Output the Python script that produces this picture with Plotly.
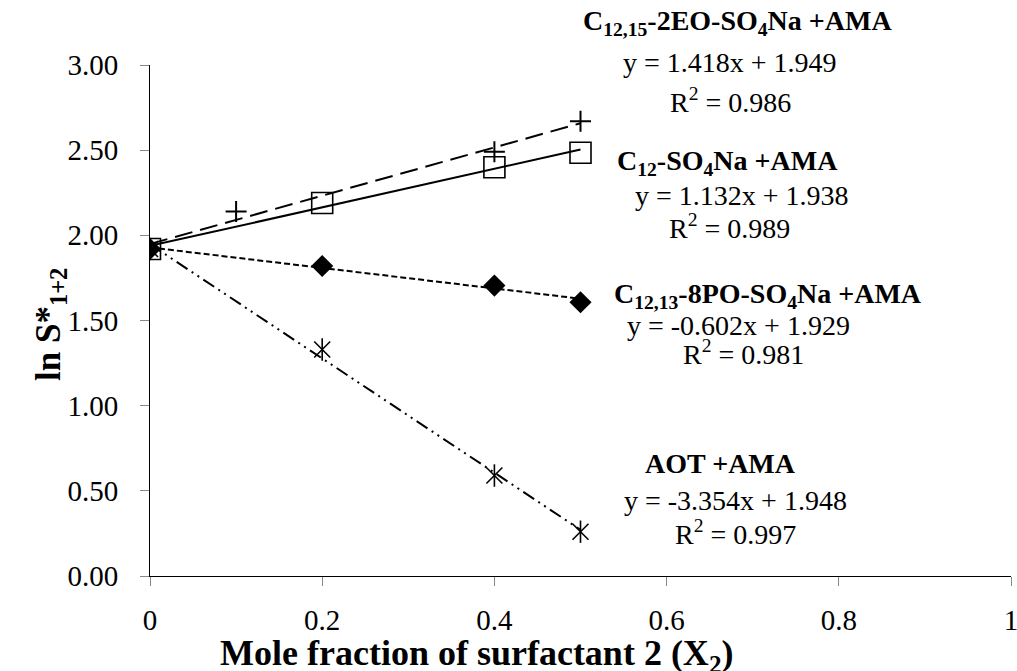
import plotly.graph_objects as go

# Mole fraction of surfactant 2 and ln S*(1+2) for each mixed system with AMA
x_eo = [0.0, 0.1, 0.4, 0.5]
y_eo = [1.92, 2.14, 2.49, 2.67]

x_c12 = [0.0, 0.2, 0.4, 0.5]
y_c12 = [1.92, 2.19, 2.40, 2.485]

x_po = [0.0, 0.2, 0.4, 0.5]
y_po = [1.92, 1.82, 1.705, 1.607]

x_aot = [0.0, 0.2, 0.4, 0.5]
y_aot = [1.92, 1.33, 0.59, 0.26]

# Linear fits (slope, intercept, R^2) reported beside each series
fit_eo = (1.418, 1.949, 0.986)
fit_c12 = (1.132, 1.938, 0.989)
fit_po = (-0.602, 1.929, 0.981)
fit_aot = (-3.354, 1.948, 0.997)
fit_x = [0.0, 0.5]

x_ticks = [0, 0.2, 0.4, 0.6, 0.8, 1]
y_ticks = [0, 0.5, 1.0, 1.5, 2.0, 2.5, 3.0]

W, H = 1017, 671
ML, MR, MT, MB = 150, 6, 65, 95
PW, PH = W - ML - MR, H - MT - MB

FONT = "Liberation Serif"
BLACK = "black"


def px_to_paper(px, py):
    return (px - ML) / PW, (H - MB - py) / PH


def fit_line(fit):
    slope, icpt, _ = fit
    return [slope * v + icpt for v in fit_x]


fig = go.Figure()

# trend lines
fig.add_trace(go.Scatter(x=fit_x, y=fit_line(fit_eo), mode="lines",
                         line=dict(color=BLACK, width=2, dash="18px,8px"), showlegend=False))
fig.add_trace(go.Scatter(x=fit_x, y=fit_line(fit_c12), mode="lines",
                         line=dict(color=BLACK, width=2), showlegend=False))
fig.add_trace(go.Scatter(x=fit_x, y=fit_line(fit_po), mode="lines",
                         line=dict(color=BLACK, width=2, dash="6px,3px"), showlegend=False))
fig.add_trace(go.Scatter(x=fit_x, y=fit_line(fit_aot), mode="lines",
                         line=dict(color=BLACK, width=2, dash="13px,5px,2px,5px,2px,5px"),
                         showlegend=False))

# measured points
fig.add_trace(go.Scatter(x=x_c12, y=y_c12, mode="markers",
                         marker=dict(symbol="square-open", size=21, color=BLACK,
                                     line=dict(width=1.6, color=BLACK)), showlegend=False))
fig.add_trace(go.Scatter(x=x_eo, y=y_eo, mode="markers",
                         marker=dict(symbol="cross-thin-open", size=15, color=BLACK,
                                     line=dict(width=2, color=BLACK)), showlegend=False))
fig.add_trace(go.Scatter(x=x_po, y=y_po, mode="markers",
                         marker=dict(symbol="diamond", size=17, color=BLACK,
                                     line=dict(width=0, color=BLACK)), showlegend=False))
fig.add_trace(go.Scatter(x=x_aot, y=y_aot, mode="markers",
                         marker=dict(symbol="x-thin-open", size=16, color=BLACK,
                                     line=dict(width=1.6, color=BLACK)), showlegend=False))
fig.add_trace(go.Scatter(x=x_aot, y=y_aot, mode="markers",
                         marker=dict(symbol="line-ns-open", size=16, color=BLACK,
                                     line=dict(width=1.6, color=BLACK)), showlegend=False))


def eq_text(fit):
    slope, icpt, _ = fit
    sign = "-" if slope < 0 else ""
    return f"y = {sign}{abs(slope):.3f}x + {icpt:.3f}"


def r2_text(fit):
    return f"R<sup>2</sup> = {fit[2]:.3f}"


# text blocks: (center px, center py, text, bold)
labels = [
    (737, 23, "C<sub>12,15</sub>-2EO-SO<sub>4</sub>Na +AMA", True),
    (730, 63, eq_text(fit_eo), False),
    (730, 100, r2_text(fit_eo), False),
    (727, 162, "C<sub>12</sub>-SO<sub>4</sub>Na +AMA", True),
    (742, 195, eq_text(fit_c12), False),
    (729, 226, r2_text(fit_c12), False),
    (768, 295, "C<sub>12,13</sub>-8PO-SO<sub>4</sub>Na +AMA", True),
    (738, 325, eq_text(fit_po), False),
    (743, 352, r2_text(fit_po), False),
    (720, 463, "AOT +AMA", True),
    (735, 500, eq_text(fit_aot), False),
    (735, 532, r2_text(fit_aot), False),
]

for cx, cy, txt, bold in labels:
    ax, ay = px_to_paper(cx, cy)
    fig.add_annotation(x=ax, y=ay, xref="paper", yref="paper", showarrow=False,
                       xanchor="center", yanchor="middle",
                       text=f"<b>{txt}</b>" if bold else txt,
                       font=dict(family=FONT, size=28, color=BLACK))

# axis titles
tx, ty = px_to_paper(476, 655)
fig.add_annotation(x=tx, y=ty, xref="paper", yref="paper", showarrow=False,
                   xanchor="center", yanchor="middle",
                   text="<b>Mole fraction of surfactant 2 (X<sub>2</sub>)</b>",
                   font=dict(family=FONT, size=36, color=BLACK))
tx, ty = px_to_paper(50, 325)
fig.add_annotation(x=tx, y=ty, xref="paper", yref="paper", showarrow=False,
                   xanchor="center", yanchor="middle", textangle=-90,
                   text="<b>ln S*<sub>1+2</sub></b>",
                   font=dict(family=FONT, size=35, color=BLACK))

fig.update_layout(
    width=W, height=H,
    margin=dict(l=ML, r=MR, t=MT, b=MB, autoexpand=False),
    paper_bgcolor="white", plot_bgcolor="white",
    font=dict(family=FONT, size=29, color=BLACK),
    xaxis=dict(range=[0, 1], tickvals=x_ticks, ticktext=[f"{v:g}" for v in x_ticks],
               showgrid=False, zeroline=False, showline=True, linecolor=BLACK, linewidth=1,
               ticks="outside", ticklen=9, tickcolor="#888888", tickwidth=1,
               ticklabelstandoff=9, ticklabeloverflow="allow", fixedrange=True),
    yaxis=dict(range=[0, 3], tickvals=y_ticks, ticktext=[f"{v:.2f}" for v in y_ticks],
               showgrid=False, zeroline=False, showline=True, linecolor=BLACK, linewidth=1,
               ticks="outside", ticklen=9, tickcolor="#888888", tickwidth=1,
               ticklabelstandoff=16, fixedrange=True),
)

fig.write_html("out.html")
